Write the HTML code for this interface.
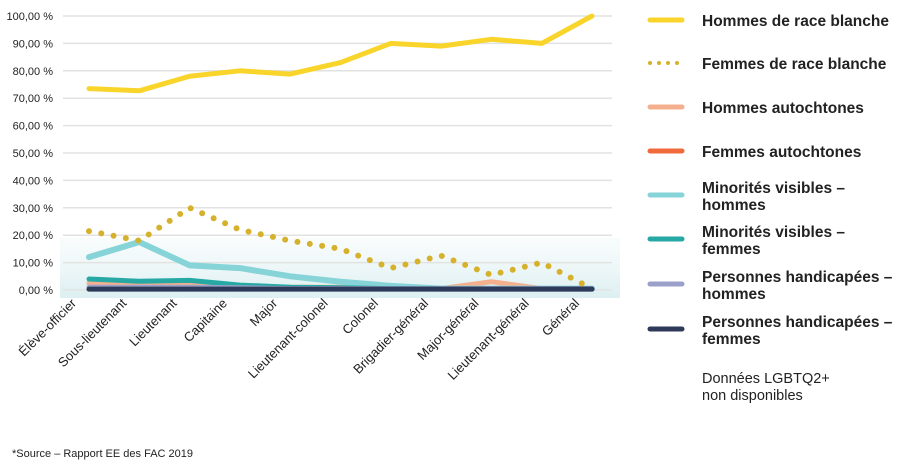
<!DOCTYPE html>
<html><head><meta charset="utf-8"><style>
body{margin:0;background:#fff;font-family:"Liberation Sans",Arial,sans-serif}
svg text{font-family:"Liberation Sans",Arial,sans-serif}
</style></head><body>
<svg id="c" width="920" height="471" viewBox="0 0 920 471">
<defs><linearGradient id="band" x1="0" y1="0" x2="0" y2="1"><stop offset="0" stop-color="#eaf5f6" stop-opacity="0.3"/><stop offset="1" stop-color="#dceff2"/></linearGradient></defs>
<rect x="60" y="238" width="560" height="60" fill="url(#band)"/>
<g id="grid"></g><g id="series"></g><g id="xl"></g>
<g id="legend"></g>
<text x="12" y="457" font-size="11" fill="#222">*Source – Rapport EE des FAC 2019</text>
</svg>
<script>
const categories=["Élève-officier","Sous-lieutenant","Lieutenant","Capitaine","Major","Lieutenant-colonel","Colonel","Brigadier-général","Major-général","Lieutenant-général","Général"];
const yTicks=[0,10,20,30,40,50,60,70,80,90,100];
const whiteMen=[73.5,72.7,78,80,78.8,83,90,89,91.5,90,100];
const whiteWomen=[21.5,18,30,22,18,15,8,12.5,5.5,10,0.5];
const indigMen=[2.5,2,2.3,1.5,1,1,0.5,0.5,3,0.5,0.5];
const indigWomen=[1,1,1,0.6,0.5,0.5,0.5,0.5,0.5,0.5,0.5];
const visMen=[12,17.5,9,8,5,3,1.5,0.5,0.5,0.5,0.5];
const visWomen=[4,3.2,3.5,1.8,1,0.8,0.5,0.5,0.5,0.5,0.5];
const disMen=[1,1,1,0.8,0.5,0.5,0.5,0.5,0.5,0.5,0.5];
const disWomen=[0.3,0.3,0.3,0.3,0.3,0.3,0.3,0.3,0.3,0.3,0.3];
const NS="http://www.w3.org/2000/svg";
const x=i=>89+i*50.3, y=v=>290-v*2.74;
function mk(tag,attrs,parent){const e=document.createElementNS(NS,tag);for(const k in attrs)e.setAttribute(k,attrs[k]);parent.appendChild(e);return e;}
const grid=document.getElementById('grid');
yTicks.forEach(t=>{
 const l=mk('line',{x1:63,x2:612,y1:y(t),y2:y(t),stroke:'#e2e2e2','stroke-width':1.5},grid);
 
 
 const tx=mk('text',{x:53,y:y(t)+4,'font-size':11,'text-anchor':'end',fill:'#222'},grid);
 tx.textContent=t.toFixed(2).replace('.',',')+' %';
 
 
});
const xl=document.getElementById('xl');
categories.forEach((c,i)=>{
 const t=mk('text',{x:x(i)-12,y:304,'font-size':13,'text-anchor':'end',fill:'#222',transform:`rotate(-45 ${x(i)-12} 304)`},xl);
 t.textContent=c;
 
 
});
const series=[
 {d:indigMen,c:'#f4b08e',w:5,n:'Hommes autochtones'},
 {d:visMen,c:'#86d3d8',w:6,n:'Minorités visibles – hommes'},
 {d:visWomen,c:'#26a9a5',w:5,n:'Minorités visibles – femmes'},
 {d:indigWomen,c:'#f06a3c',w:4,n:'Femmes autochtones'},
 {d:disMen,c:'#9aa0c8',w:5,n:'Personnes handicapées – hommes'},
 {d:disWomen,c:'#2e3a5a',w:5,n:'Personnes handicapées – femmes'},
 {d:whiteMen,c:'#f9d42a',w:5,n:'Hommes de race blanche'},
];
const sg=document.getElementById('series');
series.forEach(s=>{
 const p=mk('polyline',{points:s.d.map((v,i)=>x(i)+','+y(v)).join(' '),fill:'none',stroke:s.c,'stroke-width':s.w,'stroke-linejoin':'round','stroke-linecap':'round'},sg);
 
 
});
const dp=mk('polyline',{points:whiteWomen.map((v,i)=>x(i)+','+y(v)).join(' '),fill:'none',stroke:'#d6b12c','stroke-width':6,'stroke-dasharray':'0 12.5','stroke-linecap':'round'},sg);


const lg=document.getElementById('legend');
const items=[
 ['Hommes de race blanche','#f9d42a',0,[26]],
 ['Femmes de race blanche','#d6b12c',1,[69]],
 ['Hommes autochtones','#f4b08e',0,[113]],
 ['Femmes autochtones','#f06a3c',0,[157]],
 ['Minorités visibles –|hommes','#86d3d8',0,[193,210]],
 ['Minorités visibles –|femmes','#26a9a5',0,[237,254]],
 ['Personnes handicapées –|hommes','#9aa0c8',0,[282,299]],
 ['Personnes handicapées –|femmes','#2e3a5a',0,[327,344]],
];
items.forEach(it=>{
 const g=mk('g',{},lg);
 
 
 const ys=it[3][0]+(it[3].length>1?8:0)-6;
 mk('line',{x1:650,x2:682,y1:ys,y2:ys,stroke:it[1],'stroke-width':it[2]?4:5,'stroke-linecap':'round','stroke-dasharray':it[2]?'0 9':'none'},g);
 it[0].split('|').forEach((t,k)=>{const e=mk('text',{x:702,y:it[3][k],'font-size':15.5,'font-weight':'bold',fill:'#222'},g);e.textContent=t;});
});
['Données LGBTQ2+','non disponibles'].forEach((t,k)=>{
 const e=mk('text',{x:702,y:383+k*17,'font-size':14.5,fill:'#222'},lg);
 e.textContent=t;
 
 
});
</script>
</body></html>
